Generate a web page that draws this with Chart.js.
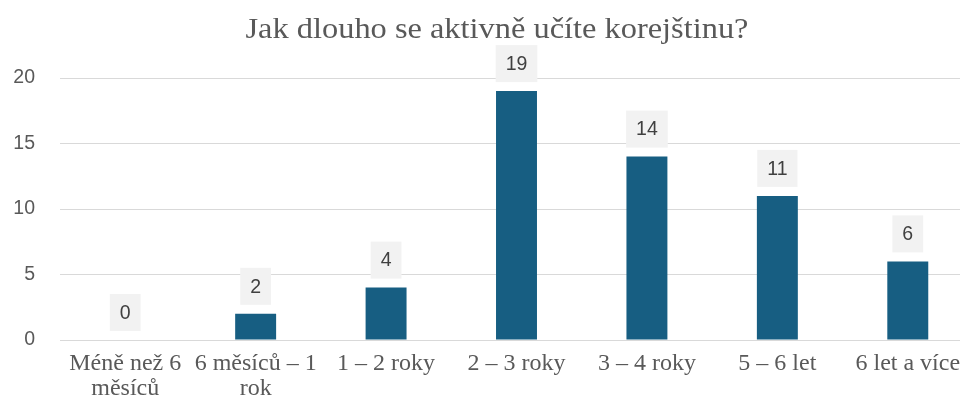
<!DOCTYPE html>
<html>
<head>
<meta charset="utf-8">
<script src="https://cdn.jsdelivr.net/npm/chart.js@4"></script>
<style>
  html, body { margin: 0; padding: 0; background: #fff; overflow: hidden; }
  #wrap { width: 975px; height: 405px; }
</style>
</head>
<body>
<div id="wrap"><canvas id="chart" width="975" height="405"></canvas></div>
<script>
// Data
const chartTitle = 'Jak dlouho se aktivně učíte korejštinu?';
const categories = [
    ['Méně než 6', 'měsíců'],
    ['6 měsíců – 1', 'rok'],
    '1 – 2 roky',
    '2 – 3 roky',
    '3 – 4 roky',
    '5 – 6 let',
    '6 let a více'
];
const counts = [0, 2, 4, 19, 14, 11, 6];
const yTicks = [0, 5, 10, 15, 20];

// titulek nad grafem (trochu roztažený do šířky)
const titlePlugin = {
    id: 'titleText',
    afterDraw(chart) {
        const ctx = chart.ctx;
        ctx.save();
        ctx.font = '30px "Liberation Serif", "Times New Roman", serif';
        ctx.fillStyle = '#595959';
        ctx.textAlign = 'center';
        ctx.textBaseline = 'alphabetic';
        ctx.translate(497, 38);
        ctx.scale(1.08, 1);
        ctx.fillText(chartTitle, 0, 0);
        ctx.restore();
    }
};

// šedé štítky s hodnotami nad sloupci
const valueLabels = {
    id: 'valueLabels',
    afterDatasetsDraw(chart) {
        const ctx = chart.ctx;
        const meta = chart.getDatasetMeta(0);
        ctx.save();
        ctx.font = '19.5px "Liberation Sans", Arial, sans-serif';
        ctx.textAlign = 'center';
        ctx.textBaseline = 'middle';
        meta.data.forEach((bar, i) => {
            const txt = String(counts[i]);
            const w = ctx.measureText(txt).width + 20;
            const h = 37;
            const bottom = bar.y - 9;
            ctx.fillStyle = '#f2f2f2';
            ctx.fillRect(bar.x - w / 2, bottom - h, w, h);
            ctx.fillStyle = '#404040';
            ctx.fillText(txt, bar.x, bottom - h / 2 + 1);
        });
        ctx.restore();
    }
};

new Chart(document.getElementById('chart'), {
    type: 'bar',
    data: {
        labels: categories,
        datasets: [{
            data: counts,
            backgroundColor: '#175e82',
            barPercentage: 0.314,
            categoryPercentage: 1.0
        }]
    },
    options: {
        responsive: false,
        animation: false,
        layout: { padding: { top: 78, right: 2, left: 0, bottom: 0 } },
        plugins: {
            legend: { display: false },
            tooltip: { enabled: false },
            title: { display: false }
        },
        scales: {
            x: {
                afterFit: (scale) => { scale.height = 65; },
                grid: { display: false, drawTicks: false },
                border: { color: '#d9d9d9', width: 1 },
                ticks: {
                    color: '#595959',
                    font: { family: '"Liberation Serif", "Times New Roman", serif', size: 24, lineHeight: 1.05 },
                    maxRotation: 0,
                    autoSkip: false,
                    padding: 11
                }
            },
            y: {
                min: 0,
                max: 20,
                afterBuildTicks: (scale) => { scale.ticks = yTicks.map(v => ({ value: v })); },
                afterFit: (scale) => { scale.width = 60; },
                grid: { color: '#d9d9d9', drawTicks: false },
                border: { display: false },
                ticks: {
                    color: '#595959',
                    font: { family: '"Liberation Sans", Arial, sans-serif', size: 19.5 },
                    padding: 25
                }
            }
        }
    },
    plugins: [titlePlugin, valueLabels]
});
</script>
</body>
</html>
